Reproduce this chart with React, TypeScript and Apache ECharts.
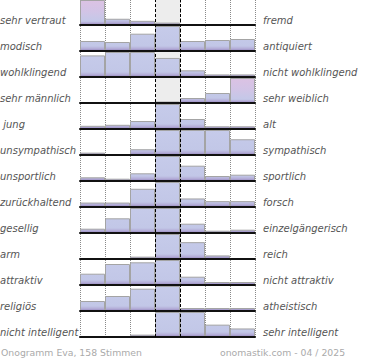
import React, { useEffect, useRef } from "react";
import * as echarts from "echarts";

// ---- data ----
const leftLabels = [
  "sehr vertraut", "modisch", "wohlklingend", "sehr männlich", " jung", "unsympathisch",
  "unsportlich", "zurückhaltend", "gesellig", "arm", "attraktiv", "religiös", "nicht intelligent",
];
const rightLabels = [
  "fremd", "antiquiert", "nicht wohlklingend", "sehr weiblich", "alt", "sympathisch",
  "sportlich", "forsch", "einzelgängerisch", "reich", "nicht attraktiv", "atheistisch", "sehr intelligent",
];
const scaleSteps = ["1", "2", "3", "4", "5", "6", "7"];
// relative vote distribution per row (7 steps of the scale)
const distributions: number[][] = [
  [24, 6, 4, 2.3, 0, 0, 0],
  [10, 9, 17.3, 25, 10, 11, 12],
  [21, 24.3, 24.3, 18.5, 6.5, 2.5, 2.5],
  [0, 0, 0, 1.5, 5, 10, 25],
  [3.2, 4.2, 8, 25, 10, 2.7, 2.7],
  [2.3, 0, 5.6, 24.3, 24.3, 24.3, 15.3],
  [3.7, 2.3, 7.7, 25, 15.3, 5, 6.3],
  [4.3, 4.3, 17.7, 24.3, 8.3, 5.7, 5.7],
  [4.3, 14.7, 25, 25, 9.3, 2.3, 3.3],
  [0, 0, 2.3, 24.5, 16.5, 3.5, 0],
  [11.3, 21, 22.7, 25, 8.3, 3, 3],
  [10, 15, 22.3, 25, 3, 3, 3],
  [0, 0, 2.3, 24.3, 24.3, 12, 8.3],
];
// [row, step] of bars drawn in the accent (pink) colour
const accentBars: [number, number][] = [[0, 0], [3, 6]];
const footerLeft = "Onogramm Eva, 158 Stimmen";
const footerRight = "onomastik.com - 04 / 2025";

// ---- layout ----
const PLOT_LEFT = 80;
const PLOT_WIDTH = 175;
const FIRST_BASELINE = 25;
const ROW_PITCH = 26;
const ROW_HEIGHT = 25;
const FONT = "DejaVu Sans";

function barGradient(baseline: number, accent: boolean) {
  const top = baseline - ROW_HEIGHT;
  return {
    type: "linear",
    x: 0, y: top, x2: 0, y2: baseline,
    global: true,
    colorStops: accent
      ? [
          { offset: 0, color: "#dcc2e3" },
          { offset: 0.45, color: "#d2c4e6" },
          { offset: 0.85, color: "#c4c8e8" },
          { offset: 0.92, color: "#b4aad6" },
          { offset: 1, color: "#9484bc" },
        ]
      : [
          { offset: 0, color: "#c6cbea" },
          { offset: 0.8, color: "#c2c7e7" },
          { offset: 0.9, color: "#b4aed8" },
          { offset: 1, color: "#9484bc" },
        ],
  };
}

export default function App() {
  const ref = useRef<HTMLDivElement>(null);
  useEffect(() => {
    if (!ref.current) return;
    const chart = echarts.init(ref.current, null, { renderer: "svg" });
    const nRows = distributions.length;
    const lastBaseline = FIRST_BASELINE + (nRows - 1) * ROW_PITCH;

    const grids: any[] = [
      { left: PLOT_LEFT, width: PLOT_WIDTH, top: 0, height: lastBaseline },
    ];
    const xAxes: any[] = [
      {
        type: "value", gridIndex: 0, min: 0, max: 7, interval: 1,
        axisLine: { show: false }, axisTick: { show: false }, axisLabel: { show: false },
        splitLine: { show: true, lineStyle: { color: "#8a8a8a", width: 1, type: [1, 1] } },
      },
    ];
    const yAxes: any[] = [{ type: "value", gridIndex: 0, min: 0, max: 1, show: false }];
    const series: any[] = [
      {
        type: "line", xAxisIndex: 0, yAxisIndex: 0, data: [], silent: true,
        markArea: {
          silent: true,
          itemStyle: { color: "#ededed" },
          data: [[{ xAxis: 3 }, { xAxis: 4 }]],
        },
        markLine: {
          silent: true, symbol: "none", label: { show: false }, z: 6,
          lineStyle: { color: "#000", type: [3, 2], width: 1 },
          data: [{ xAxis: 3 }, { xAxis: 4 }],
        },
      },
    ];
    const graphics: any[] = [];

    distributions.forEach((row, i) => {
      const baseline = FIRST_BASELINE + i * ROW_PITCH;
      const gi = i + 1;
      grids.push({ left: PLOT_LEFT, width: PLOT_WIDTH, top: baseline - ROW_HEIGHT, height: ROW_HEIGHT });
      xAxes.push({
        type: "category", gridIndex: gi, data: scaleSteps, boundaryGap: true, z: 4,
        axisLine: { show: true, lineStyle: { color: "#111", width: 2 } },
        axisTick: { show: false }, axisLabel: { show: false }, splitLine: { show: false },
      });
      yAxes.push({ type: "value", gridIndex: gi, min: 0, max: Math.max(...row), show: false });
      series.push({
        type: "bar", xAxisIndex: gi, yAxisIndex: gi, barWidth: "100%", silent: true,
        itemStyle: { color: barGradient(baseline, false), borderColor: "#a4a4a4", borderWidth: 1 },
        data: row.map((v, j) => {
          const accent = accentBars.some(([r, s]) => r === i && s === j);
          return accent
            ? { value: v, itemStyle: { color: barGradient(baseline, true) } }
            : v;
        }),
      });
      graphics.push({
        type: "text", x: 0, y: baseline - 5,
        style: { text: leftLabels[i], fill: "#555", font: `italic 10px '${FONT}'`, verticalAlign: "middle", align: "left" },
      });
      graphics.push({
        type: "text", x: 263, y: baseline - 5,
        style: { text: rightLabels[i], fill: "#555", font: `italic 10px '${FONT}'`, verticalAlign: "middle", align: "left" },
      });
    });

    graphics.push({
      type: "text", x: 1, y: 352.5,
      style: { text: footerLeft, fill: "#aaa", font: `9.3px '${FONT}'`, verticalAlign: "middle", align: "left" },
    });
    graphics.push({
      type: "text", x: 220, y: 352.5,
      style: { text: footerRight, fill: "#aaa", font: `9.3px '${FONT}'`, verticalAlign: "middle", align: "left" },
    });

    chart.setOption({
      animation: false,
      backgroundColor: "#fff",
      grid: grids,
      xAxis: xAxes,
      yAxis: yAxes,
      series,
      graphic: graphics,
    });
    return () => chart.dispose();
  }, []);
  return (
    <div
      ref={ref}
      style={{ position: "absolute", left: 0, top: 0, width: 370, height: 360 }}
    />
  );
}
